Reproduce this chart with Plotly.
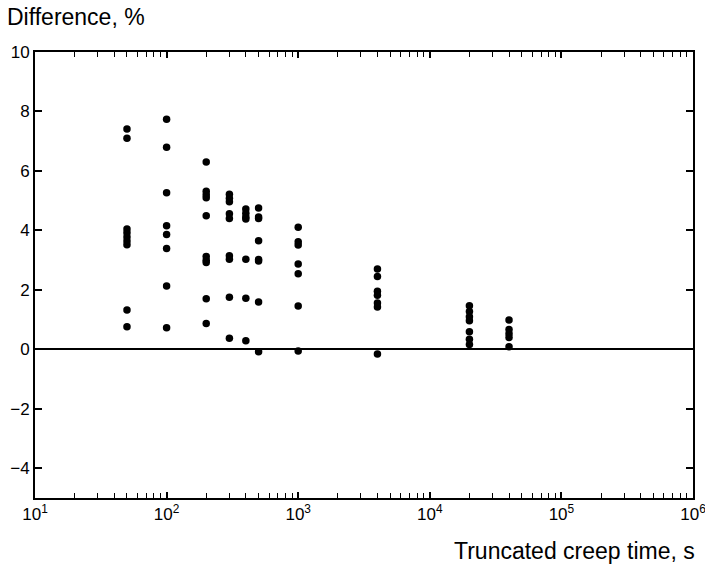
import plotly.graph_objects as go

# Truncated creep time (s) and difference (%) per column
times = [50, 100, 200, 300, 400, 500, 1000, 4000, 20000, 40000]
diffs = [
    [7.41, 7.10, 4.05, 3.92, 3.78, 3.64, 3.52, 1.32, 0.76],
    [7.74, 6.80, 5.27, 4.16, 3.86, 3.39, 2.13, 0.73],
    [6.30, 5.32, 5.20, 5.10, 4.49, 3.12, 3.00, 2.92, 1.70, 0.87],
    [5.22, 5.08, 4.96, 4.56, 4.40, 3.15, 3.03, 1.75, 0.37],
    [4.72, 4.58, 4.45, 4.38, 3.03, 1.72, 0.29],
    [4.75, 4.45, 4.40, 3.65, 3.02, 2.97, 1.59, -0.08],
    [4.11, 3.62, 3.51, 2.87, 2.54, 1.46, -0.06],
    [2.70, 2.45, 1.95, 1.82, 1.56, 1.42, -0.16],
    [1.47, 1.27, 1.10, 0.96, 0.59, 0.34, 0.16],
    [0.99, 0.67, 0.52, 0.40, 0.09],
]

xs, ys = [], []
for t, col in zip(times, diffs):
    for v in col:
        xs.append(t)
        ys.append(v)

x_tickvals = [10, 100, 1000, 10000, 100000, 1000000]
x_ticktext = ["10<sup>1</sup>", "10<sup>2</sup>", "10<sup>3</sup>",
              "10<sup>4</sup>", "10<sup>5</sup>", "10<sup>6</sup>"]
y_tickvals = [-4, -2, 0, 2, 4, 6, 8, 10]
y_ticktext = ["\u22124", "\u22122", "0", "2", "4", "6", "8", "10"]

minor_vals = [m * 10 ** e for e in range(1, 6) for m in range(2, 10)]

fig = go.Figure()
fig.add_trace(go.Scatter(
    x=xs, y=ys, mode="markers",
    marker=dict(symbol="circle", size=7.5, color="black"),
    showlegend=False, hoverinfo="skip",
))

font = dict(family="Liberation Sans, Arial, sans-serif", color="black")

fig.update_layout(
    width=705, height=564,
    margin=dict(l=35, r=12, t=52, b=66),
    paper_bgcolor="white", plot_bgcolor="white",
    font=dict(**font, size=17),
    xaxis=dict(
        type="log", range=[1, 6], automargin=False,
        ticklabeloverflow="allow",
        tickmode="array", tickvals=x_tickvals, ticktext=x_ticktext,
        ticks="inside", ticklen=6, tickwidth=1.5, tickcolor="black",
        showline=True, linecolor="black", linewidth=2, mirror="ticks",
        showgrid=False, zeroline=False,
        tickfont=dict(**font, size=17),
        minor=dict(tickmode="array", tickvals=minor_vals, ticks="inside",
                   ticklen=5, tickwidth=1.2, tickcolor="black", showgrid=False),
    ),
    yaxis=dict(
        range=[-5, 10], automargin=False,
        tickmode="array", tickvals=y_tickvals, ticktext=y_ticktext,
        ticks="inside", ticklen=7, tickwidth=1.5, tickcolor="black",
        showline=True, linecolor="black", linewidth=2, mirror="ticks",
        showgrid=False,
        zeroline=True, zerolinecolor="black", zerolinewidth=1.6,
        tickfont=dict(**font, size=17),
    ),
    annotations=[
        dict(text="Difference, %", xref="paper", yref="paper",
             x=-0.046, y=1.078, xanchor="left", yanchor="middle",
             showarrow=False, font=dict(**font, size=23)),
        dict(text="Truncated creep time, s", xref="paper", yref="paper",
             x=1.006, y=-0.119, xanchor="right", yanchor="middle",
             showarrow=False, font=dict(**font, size=23)),
    ],
)

fig.write_html("out.html")
